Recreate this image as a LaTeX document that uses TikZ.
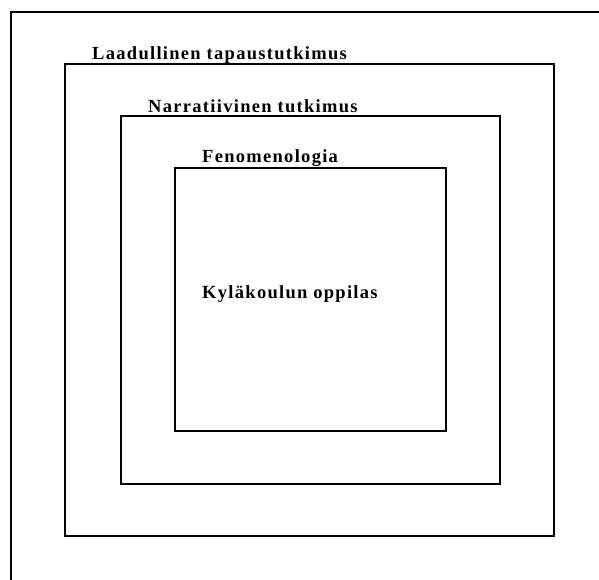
\documentclass[tikz,border=0pt]{standalone}
\usepackage{fontspec}
\setmainfont[LetterSpace=7]{Liberation Serif}
\begin{document}
\begin{tikzpicture}[x=1pt,y=-1pt,
  frame/.style={line width=1.3pt,black},
  lbl/.style={anchor=base west,inner sep=0pt,font=\fontsize{18.5}{20}\selectfont\bfseries}]
\useasboundingbox (0,0) rectangle (599,580);
% partial outer frame
\draw[frame] (11,580) -- (11,12) -- (599,12);
% nested boxes
\draw[frame] (65,64) rectangle (554,536);
\draw[frame] (121,116) rectangle (500,484);
\draw[frame] (175,168) rectangle (446,431);
% labels
\node[lbl] (laad) at (92,60) {Laadullinen tapaustutkimus};
\node[lbl] (narr) at (148,113) {Narratiivinen tutkimus};
\node[lbl] (feno) at (202,163) {Fenomenologia};
\node[lbl] (kyla) at (202,298) {Kyläkoulun oppilas};
\end{tikzpicture}
\end{document}
